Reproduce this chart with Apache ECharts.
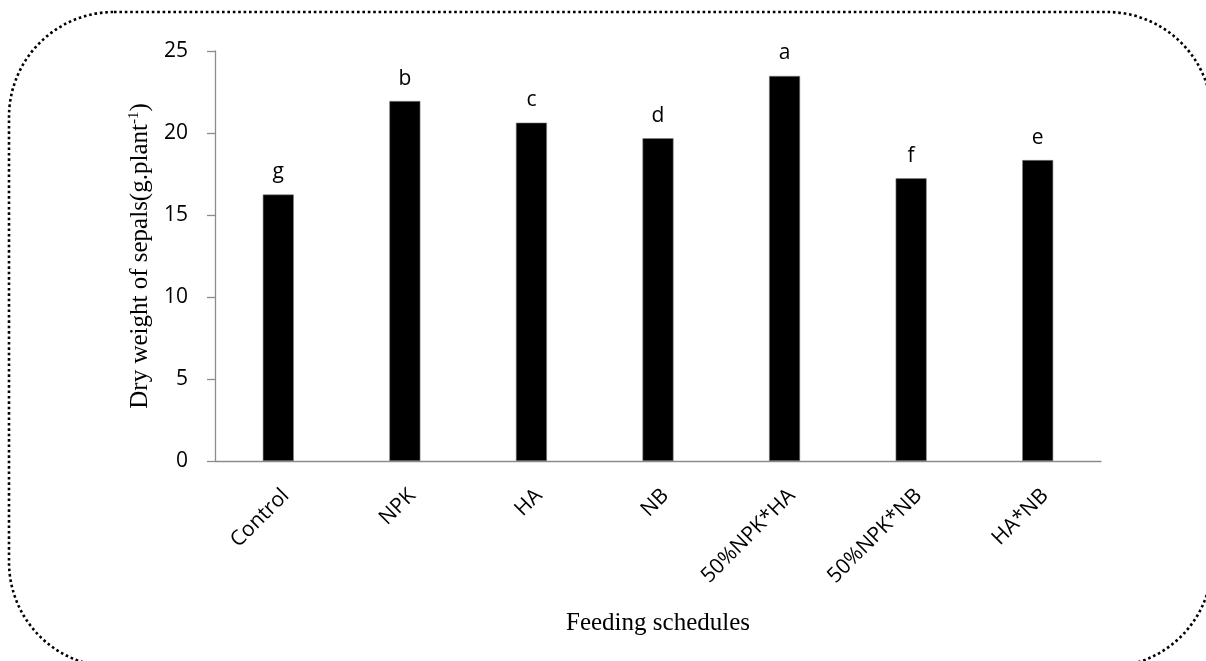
<!DOCTYPE html>
<html>
<head>
<meta charset="utf-8">
<script src="https://cdn.jsdelivr.net/npm/echarts@6/dist/echarts.min.js"></script>
<style>
html,body{margin:0;padding:0;background:#fff;}
#chart{width:1206px;height:661px;}
</style>
</head>
<body>
<div id="chart"></div>
<script>
const categories = ['Control', 'NPK', 'HA', 'NB', '50%NPK*HA', '50%NPK*NB', 'HA*NB'];
const values = [16.25, 21.95, 20.63, 19.68, 23.48, 17.24, 18.35];
const letters = ['g', 'b', 'c', 'd', 'a', 'f', 'e'];
const yTicks = [0, 5, 10, 15, 20, 25];

const sans = '"Open Sans", "Noto Sans", sans-serif';
const serif = '"Liberation Serif", "Times New Roman", serif';
const axisGrey = '#8c8c8c';

const chart = echarts.init(document.getElementById('chart'), null, {renderer: 'canvas'});
chart.setOption({
  animation: false,
  backgroundColor: '#ffffff',
  graphic: [{
    type: 'rect',
    shape: {x: 9, y: 12, width: 1203, height: 655, r: 105},
    style: {fill: 'none', stroke: '#000', lineWidth: 2.6, lineDash: [2.6, 2.8]},
    silent: true,
    z: -1
  }],
  grid: {left: 215, right: 105, top: 51, bottom: 200, containLabel: false},
  xAxis: {
    type: 'category',
    data: categories,
    name: 'Feeding schedules',
    nameLocation: 'middle',
    nameGap: 150,
    nameTextStyle: {fontFamily: serif, fontSize: 25, color: '#000'},
    axisLine: {show: true, lineStyle: {color: axisGrey, width: 1.3}},
    axisTick: {show: false},
    axisLabel: {
      interval: 0, rotate: 45, margin: 24, verticalAlign: 'top',
      fontFamily: sans, fontSize: 21, color: '#000'
    },
    splitLine: {show: false}
  },
  yAxis: {
    type: 'value',
    min: 0, max: 25, interval: 5,
    name: '{a|Dry weight of sepals(g.plant}{s|-1}{a|)}',
    nameLocation: 'middle',
    nameGap: 53,
    nameTextStyle: {
      fontFamily: serif, fontSize: 25, color: '#000',
      rich: {
        a: {fontFamily: serif, fontSize: 25, color: '#000', lineHeight: 28},
        s: {fontFamily: serif, fontSize: 15, color: '#000', verticalAlign: 'top', lineHeight: 28}
      }
    },
    axisLine: {show: true, lineStyle: {color: axisGrey, width: 1.3}},
    axisTick: {show: true, inside: false, length: 8, lineStyle: {color: axisGrey, width: 1.3}},
    axisLabel: {
      margin: 27, fontFamily: sans, fontSize: 21, color: '#000',
      formatter: function (v) { return yTicks.indexOf(v) >= 0 ? String(v) : ''; }
    },
    splitLine: {show: false}
  },
  series: [{
    type: 'bar',
    data: values,
    barWidth: '24.5%',
    itemStyle: {color: '#000', borderColor: '#7f7f7f', borderWidth: 0.6},
    label: {
      show: true, position: 'top', distance: 12,
      fontFamily: sans, fontSize: 21, color: '#000',
      formatter: function (p) { return letters[p.dataIndex]; }
    }
  }]
});
</script>
</body>
</html>
